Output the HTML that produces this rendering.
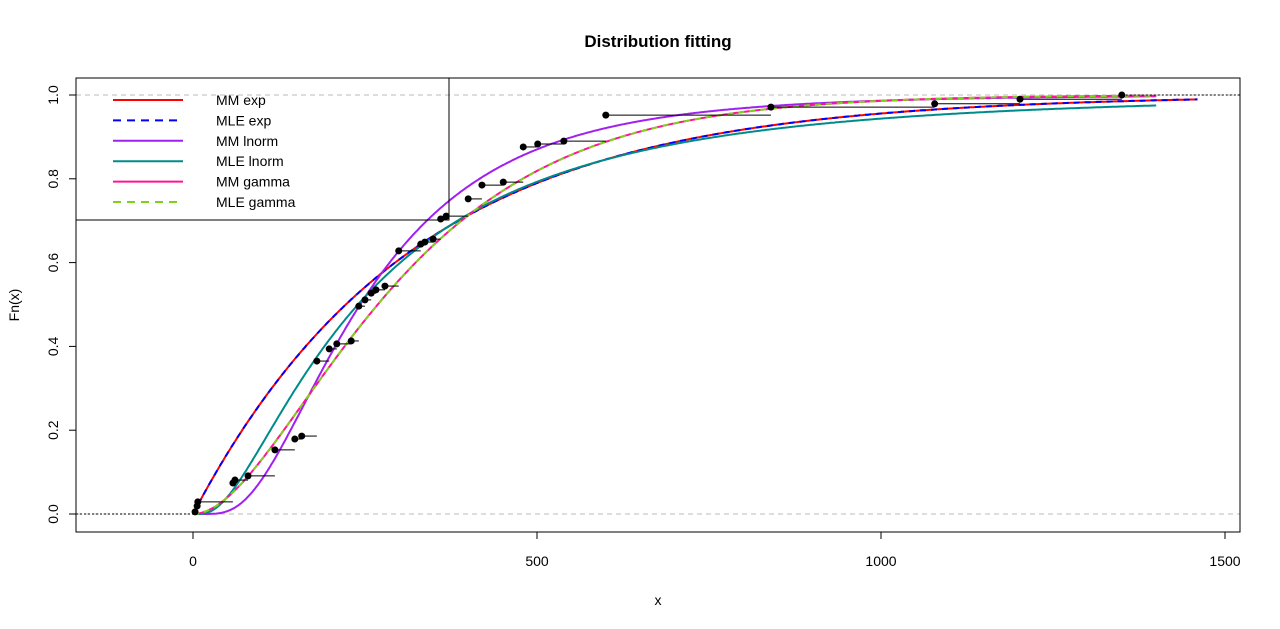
<!DOCTYPE html>
<html><head><meta charset="utf-8"><style>
html,body{margin:0;padding:0;background:#fff;}
svg{display:block;font-family:"Liberation Sans",Arial,sans-serif;}
</style></head><body>
<svg id="chart" width="1280" height="629">
<text x="658" y="47" text-anchor="middle" font-weight="bold" font-size="17">Distribution fitting</text>
<text x="658" y="605" text-anchor="middle" font-size="14">x</text>
<text transform="translate(19,305) rotate(-90)" text-anchor="middle" font-size="14">Fn(x)</text>
<g id="axes"></g>
<g id="curves"></g>
<g id="ecdf"></g>
<rect x="76" y="78" width="1164" height="454" fill="none" stroke="#000"/>
<g id="legend"></g>
</svg>
<script>
const sampleX=[3,6,7,58,61,80,119,148,158,180,198,209,230,241,250,259,266,279,299,331,337,349,360,368,400,420,451,480,501,539,600,840,1078,1202,1350];
const sampleFn=[0.005,0.019,0.029,0.074,0.081,0.091,0.153,0.179,0.186,0.365,0.394,0.406,0.413,0.496,0.511,0.527,0.535,0.544,0.628,0.644,0.649,0.656,0.704,0.711,0.752,0.785,0.792,0.876,0.883,0.89,0.952,0.971,0.979,0.99,1.0];
const xTicks=[0,500,1000,1500];
const yTicks=[0,0.2,0.4,0.6,0.8,1.0];
const expRateMM=0.00312, expRateMLE=0.00312;
const lnormMM=[5.493,0.64], lnormMLE=[5.48,0.9];
const gammaMM=[2,0.00625], gammaMLE=[2,0.00625];
const legendLabels=["MM exp","MLE exp","MM lnorm","MLE lnorm","MM gamma","MLE gamma"];
const legendColors=["#ff0000","#0000ff","#a020f0","#008b8b","#ff1493","#7fd11b"];
const legendDash=[false,true,false,false,false,true];

const NS="http://www.w3.org/2000/svg";
const X=v=>193+v*0.688, Y=v=>514-v*419;
function el(t,a,p){const e=document.createElementNS(NS,t);for(const k in a)e.setAttribute(k,a[k]);document.getElementById(p).appendChild(e);return e;}
function erf(x){const s=x<0?-1:1;x=Math.abs(x);const t=1/(1+0.3275911*x);const y=1-(((((1.061405429*t-1.453152027)*t)+1.421413741)*t-0.284496736)*t+0.254829592)*t*Math.exp(-x*x);return s*y;}
const pnorm=z=>0.5*(1+erf(z/Math.SQRT2));
const fExp=r=>x=>1-Math.exp(-r*x);
const fLn=p=>x=>x<=0?0:pnorm((Math.log(x)-p[0])/p[1]);
const fGam=p=>x=>{const t=p[1]*x;return 1-Math.exp(-t)*(1+t);};

xTicks.forEach(t=>{
 let l=el('line',{x1:X(t),x2:X(t),y1:532,y2:539,stroke:'#000'},'axes');
 
 let tx=el('text',{x:X(t),y:566,'text-anchor':'middle','font-size':14},'axes');tx.textContent=t;
 
});
el('line',{x1:X(0),x2:X(1500),y1:532,y2:532,stroke:'#000'},'axes');
yTicks.forEach(t=>{
 let l=el('line',{x1:69,x2:76,y1:Y(t),y2:Y(t),stroke:'#000'},'axes');
 
 let tx=el('text',{transform:`translate(58,${Y(t)}) rotate(-90)`,'text-anchor':'middle','font-size':14},'axes');tx.textContent=t.toFixed(1);
 
});
el('line',{x1:76,x2:76,y1:Y(0),y2:Y(1),stroke:'#000'},'axes');
[0,1].forEach(v=>{let l=el('line',{x1:76,x2:1240,y1:Y(v),y2:Y(v),stroke:'#bbb','stroke-dasharray':'5,4'},'axes');
 });

const fits=[[fExp(expRateMM),1460],[fExp(expRateMLE),1460],[fLn(lnormMM),1400],[fLn(lnormMLE),1400],[fGam(gammaMM),1400],[fGam(gammaMLE),1400]];
fits.forEach((f,i)=>{
 let d='';for(let x=0;x<=f[1];x+=2){d+=(x?'L':'M')+X(x).toFixed(1)+','+Y(f[0](x)).toFixed(1);}
 const p=el('path',{d,fill:'none',stroke:legendColors[i],'stroke-width':2},'curves');
 if(legendDash[i])p.setAttribute('stroke-dasharray','6,5');
 
 
});

let l0=el('line',{x1:76,x2:X(sampleX[0]),y1:Y(0),y2:Y(0),stroke:'#000','stroke-dasharray':'2,2'},'ecdf');

sampleX.forEach((x,i)=>{
 const nx=i<sampleX.length-1?sampleX[i+1]:null;
 const s=el('line',{x1:X(x),x2:nx==null?1240:X(nx),y1:Y(sampleFn[i]),y2:Y(sampleFn[i]),stroke:'#000','stroke-width':1},'ecdf');
 if(nx==null)s.setAttribute('stroke-dasharray','2,2');
 
 const c=el('circle',{cx:X(x),cy:Y(sampleFn[i]),r:3.5,fill:'#000'},'ecdf');
 
});

el('rect',{x:76,y:78,width:373,height:142,fill:'none',stroke:'#000'},'legend');
legendLabels.forEach((t,i)=>{
 const y=100+i*20.4;
 const l=el('line',{x1:113,x2:183,y1:y,y2:y,stroke:legendColors[i],'stroke-width':2},'legend');
 if(legendDash[i])l.setAttribute('stroke-dasharray','8,6');
 
 const tx=el('text',{x:216,y:y+5,'font-size':14},'legend');tx.textContent=t;
 
});
</script>
</body></html>
